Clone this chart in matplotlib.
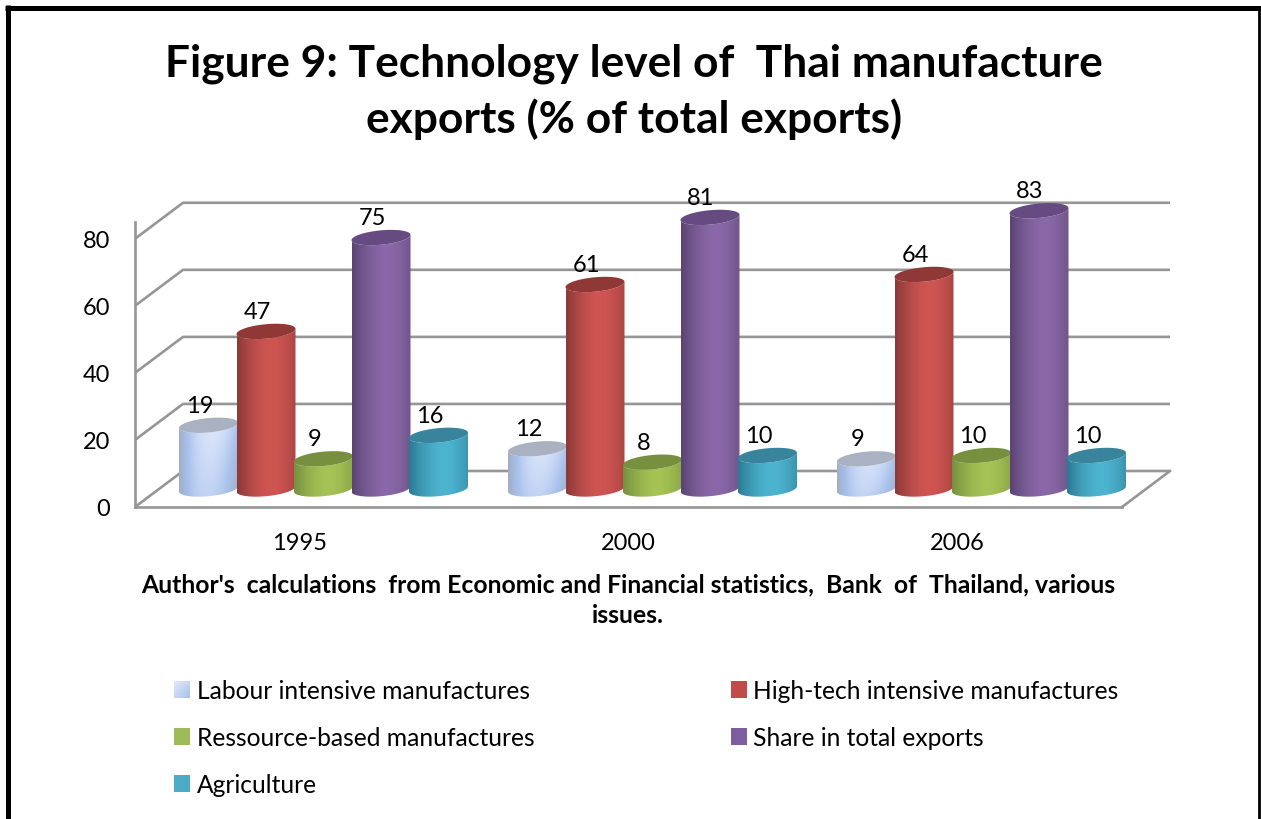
import numpy as np
import matplotlib
matplotlib.use("Agg")
import matplotlib.pyplot as plt
from matplotlib.colors import LinearSegmentedColormap
from matplotlib.legend_handler import HandlerPatch
from matplotlib.lines import Line2D
from matplotlib.patches import Polygon, Rectangle

plt.rcParams['font.family'] = ['Lato', 'DejaVu Sans']

years = ['1995', '2000', '2006']
series = ['Labour intensive manufactures', 'High-tech intensive manufactures',
          'Ressource-based manufactures', 'Share in total exports', 'Agriculture']
labour = [19, 12, 9]
hightech = [47, 61, 64]
resource = [9, 8, 10]
share = [75, 81, 83]
agriculture = [16, 10, 10]
yticks = [0, 20, 40, 60, 80]

values = [labour, hightech, resource, share, agriculture]
edge_cols = ['#a4afc4', '#8a3a38', '#76903f', '#5a4472', '#2c7a93']
mid_cols = ['#dce6fa', '#cf5552', '#a6c355', '#8b68a9', '#4db4d0']
top_cols = ['#aab1c0', '#8f3836', '#76903f', '#654b82', '#37849c']
legend_cols = ['#c6d3ee', '#bf4c49', '#9dbb59', '#7d5f9f', '#4aacc5']
grey = '#969696'

W, H = 1261, 820
left, right, base, top = 135, 1122, 508, 223
fig = plt.figure(figsize=(W / 100, H / 100), dpi=100, facecolor='white')
ax = fig.add_axes([left / W, 1 - base / H, (right - left) / W, (base - top) / H])
ax.patch.set_visible(False)

# size of one pixel in data units
px_x = 3 / (right - left)
px_y = 85 / (base - top)
depth_x = 48 * px_x
depth_y = 36 * px_y
pitch = 57.5 * px_x
half_w = 29.5 * px_x
half_h = 7.2 * px_y
slope = 0.09 * px_y / px_x


def ellipse_arc(cx, cy, t):
    x = cx + half_w * np.cos(t)
    y = cy + half_h * np.sin(t) + slope * (x - cx)
    return np.column_stack([x, y])


def draw_bar(cx, y0, val, j):
    low = ellipse_arc(cx, y0, np.linspace(np.pi, 2 * np.pi, 40))
    up = ellipse_arc(cx, y0 + val, np.linspace(2 * np.pi, np.pi, 40))
    outline = Polygon(np.vstack([low, up]), transform=ax.transData, fc='none', ec='none')
    g = np.linspace(-1, 1, 64)
    shade = np.clip(np.abs(g - 0.18) / 1.18, 0, 1) ** 1.7
    cmap = LinearSegmentedColormap.from_list('c', [mid_cols[j], edge_cols[j]])
    if j == 0:
        # the labour bars fade to a stronger blue near the bottom right
        cmap = LinearSegmentedColormap.from_list('c', ['#e2ebfc', '#a9c1ec', '#a0abc0'])
        vert = np.linspace(0, 1, 40)[:, None]
        img = np.clip(0.45 * vert * (g[None, :] + 1) / 2 * 1.3 + 0.5 * shade[None, :] + 0.45 * shade[None, :] ** 2, 0, 1)
    else:
        img = shade[None, :]
    im = ax.imshow(img, extent=[cx - half_w, cx + half_w, y0 - half_h * 2.2, y0 + val + half_h * 2.2],
                   aspect='auto', cmap=cmap, vmin=0, vmax=1, interpolation='bilinear', zorder=3 + j)
    im.set_clip_box(fig.bbox)
    im.set_clip_path(outline)
    cap = ellipse_arc(cx, y0 + val, np.linspace(0, 2 * np.pi, 80))
    ax.add_patch(Polygon(cap, fc=top_cols[j], ec='none', zorder=3 + j, clip_on=False))


# back wall and floor
for v in yticks:
    ax.plot([0, depth_x, 3 + depth_x], [v, v + depth_y, v + depth_y], color=grey, lw=1.9,
            zorder=1, clip_on=False, solid_capstyle='butt')
ax.plot([3, 3 + depth_x], [0, depth_y], color=grey, lw=1.9, zorder=1, clip_on=False)

for j, vals in enumerate(values):
    for i, val in enumerate(vals):
        cx = i + 0.5 + (j - 2) * pitch + depth_x / 2
        y0 = depth_y / 2
        draw_bar(cx, y0, val, j)
        ax.annotate(str(val), (cx, y0 + val), xytext=(-9, 20), textcoords='offset pixels',
                    ha='center', va='center', fontsize=17, color='black', zorder=10,
                    annotation_clip=False)

ax.set_xlim(0, 3)
ax.set_ylim(0, 85)
ax.set_xticks([0.5, 1.5, 2.5], years)
ax.set_yticks(yticks)
ax.tick_params(length=0, labelsize=17)
ax.tick_params(axis='x', pad=18)
ax.tick_params(axis='y', pad=18)
for s in ['top', 'right']:
    ax.spines[s].set_visible(False)
for s in ['left', 'bottom']:
    ax.spines[s].set_color(grey)
    ax.spines[s].set_linewidth(1.9)

fig.text(634 / W, 1 - 91.5 / H, 'Figure 9: Technology level of  Thai manufacture\nexports (% of total exports)',
         ha='center', va='center', fontsize=31.9, fontweight='bold', linespacing=1.41)
fig.text(628 / W, 1 - 600 / H, "Author's  calculations  from Economic and Financial statistics,  Bank  of  Thailand, various\nissues.",
         ha='center', va='center', fontsize=17.87, fontweight='bold', linespacing=1.38)


class GradientHandler(HandlerPatch):
    def create_artists(self, legend, orig_handle, xd, yd, width, height, fontsize, trans):
        out = []
        n = 8
        cm = LinearSegmentedColormap.from_list('l', ['#e4eafa', '#a9c0ea'])
        for a in range(n):
            for b in range(n):
                r = Rectangle((-xd + width * a / n, -yd + height * b / n), width / n * 1.05, height / n * 1.05,
                              fc=cm((a + n - b) / (2 * n)), ec='none', transform=trans)
                out.append(r)
        return out


order = [0, 2, 4, 1, 3]
handles = [Rectangle((0, 0), 1, 1, fc=legend_cols[k], ec='none') for k in order]
fig.legend(handles, [series[k] for k in order], ncol=2, frameon=False,
           loc='upper left', bbox_to_anchor=(174 / W, 1 - 680 / H), bbox_transform=fig.transFigure,
           fontsize=17.75, handlelength=0.65, handleheight=0.65, handletextpad=0.28,
           columnspacing=7.95, labelspacing=0.98, borderpad=0, borderaxespad=0,
           handler_map={handles[0]: GradientHandler()})

# black frame of the original picture
for xs, ys, w in [((7.5, 7.5), (6, 820), 3.6), ((5, 1261), (8.5, 8.5), 3.6), ((1258.5, 1258.5), (8, 820), 2)]:
    fig.add_artist(Line2D(np.array(xs) / W, 1 - np.array(ys) / H, color='black', lw=w, solid_capstyle='butt'))

fig.savefig('out.png', dpi=100)
